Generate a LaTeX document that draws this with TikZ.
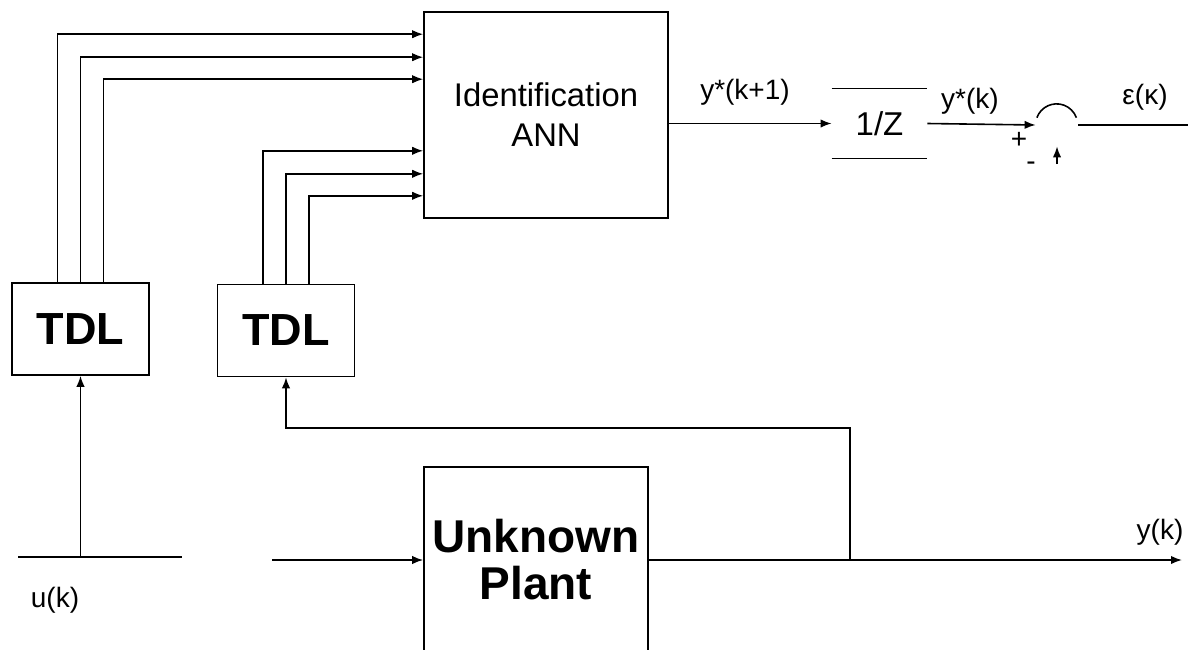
\documentclass[tikz,border=0pt]{standalone}
\usepackage{fontspec}
\setmainfont{Liberation Sans}
\usetikzlibrary{arrows.meta,positioning,calc}
\tikzset{
  flowarrow/.style={-{Latex[length=5.5pt,width=4.2pt]}, line width=0.8pt, draw=black},
  flowline/.style={line width=0.8pt, draw=black},
  block/.style={draw=black, line width=0.8pt, align=center, inner sep=2pt},
  tdlbox/.style={block, minimum width=68.5pt, minimum height=46pt,
    font=\fontsize{22.5}{26}\selectfont\bfseries},
  sig/.style={font=\fontsize{14}{16}\selectfont, inner sep=1pt}
}

\begin{document}
\begin{tikzpicture}[x=0.5pt, y=0.5pt]
        \useasboundingbox (0,0) rectangle (1188,-649);

        \node[block, minimum width=122pt, minimum height=103pt,
          font=\fontsize{16.4}{20}\selectfont] (ann) at (546,-115) {Identification\\ANN};
        \node[tdlbox] (tdla) at (80.5,-329) {TDL};
        \node[tdlbox] (tdlb) at (286,-330.5) {TDL};
        \node[block, minimum width=112pt, minimum height=93pt,
          font=\fontsize{23}{23.5}\selectfont\bfseries] (plant) at (536,-560) {Unknown\\Plant};
        \node[minimum width=47.5pt, minimum height=34.5pt,
          font=\fontsize{16.5}{20}\selectfont] (delay) at (879.5,-123.5) {1/Z};
        \node[circle, minimum size=21pt, inner sep=0pt] (sum) at (1057,-125) {};

        \coordinate (uin) at (18,-557);
        \coordinate (uend) at (182,-557);
        \coordinate (pin) at (272,-560);
        \coordinate (tap) at (850,-560);
        \coordinate (fb) at (850,-428);
        \coordinate (yout) at (1182,-560);
        \coordinate (eout) at (1188,-125);
        \coordinate (minus) at (1057,-164);

        \node[sig] (lnext) at (745,-92) {y*(k+1)};
        \node[sig] (lprev) at (970,-101) {y*(k)};
        \node[sig] (lplus) at (1019,-140) {+};
        \node[sig] (lminus) at (1031,-166) {-};
        \node[sig] (lerr) at (1145,-97) {ε(κ)};
        \node[sig] (lout) at (1160,-532) {y(k)};
        \node[sig] (lin) at (55,-600) {u(k)};

        % delayed inputs into the network
        \draw[flowarrow] ([xshift=-11.5pt]tdla.north) |- ([yshift=-11.5pt]ann.north west);
        \draw[flowarrow] (tdla.north) |- ([yshift=-23pt]ann.north west);
        \draw[flowarrow] ([xshift=11.5pt]tdla.north) |- ([yshift=-34pt]ann.north west);
        \draw[flowarrow] ([xshift=-11.5pt]tdlb.north) |- ([yshift=34pt]ann.south west);
        \draw[flowarrow] (tdlb.north) |- ([yshift=22.5pt]ann.south west);
        \draw[flowarrow] ([xshift=11.5pt]tdlb.north) |- ([yshift=11.5pt]ann.south west);

        \draw[flowline] (uin) -- (uend);
        \draw[flowarrow] (tdla.south |- uin) -- (tdla.south);
        \draw[flowarrow] (pin) -- (plant.west);
        \draw[flowarrow] (plant.east) -- (yout);
        \draw[flowarrow] (tap) -- (fb) -| (tdlb.south);

        \draw[flowarrow] (ann.east |- delay.west) -- (delay.west);
        \draw[flowline] (delay.north west) -- (delay.north east);
        \draw[flowline] (delay.south west) -- (delay.south east);
        \draw[flowarrow] (delay.east) -- (sum.west);
        \draw[flowline] (sum.160) arc[start angle=160, end angle=20, radius=10.5pt];
        \draw[flowarrow] (minus) -- (sum.south);
        \draw[flowline] (sum.east) -- (eout);
    \end{tikzpicture}
\end{document}
